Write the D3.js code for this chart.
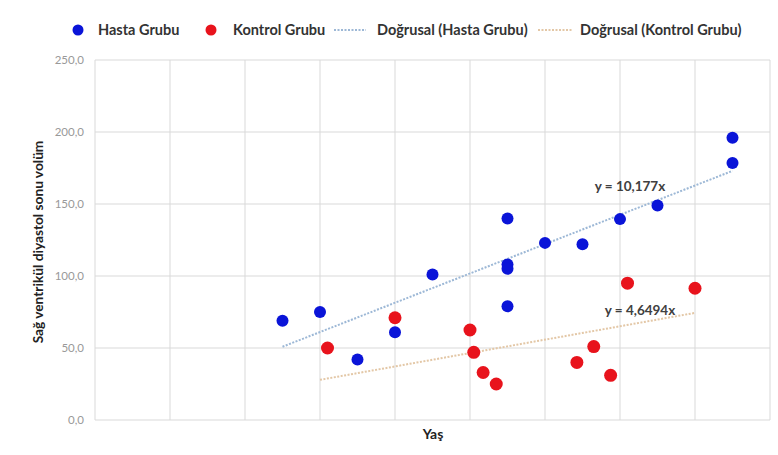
<!DOCTYPE html>
<html>
<head>
<meta charset="utf-8">
<script src="https://cdn.jsdelivr.net/npm/d3@7"></script>
<style>
  body { margin: 0; background: #fff; }
  svg { display: block; font-family: Lato, "Open Sans", sans-serif; }
</style>
</head>
<body>
<svg id="chart" width="778" height="455"></svg>
<script>
// Hasta Grubu (patients)
const hastaX = [5, 6, 7, 8, 9, 11, 11, 11, 11, 12, 13, 14, 15, 17, 17];
const hastaY = [69, 75, 42, 61, 101, 140, 108, 105, 79, 123, 122, 139.5, 149, 196, 178.5];
// Kontrol Grubu (controls)
const kontrolX = [6.2, 8, 10, 10.1, 10.35, 10.7, 12.85, 13.3, 13.75, 14.2, 16];
const kontrolY = [50, 71, 62.5, 47, 33, 25, 40, 51, 31, 95, 91.5];
// Trend lines (through origin)
const hastaSlope = 10.177;
const kontrolSlope = 4.6494;
const hastaTrendRange = [5, 17];
const kontrolTrendRange = [6, 16];
const hastaLabel = "y = 10,177x";
const kontrolLabel = "y = 4,6494x";
const yTicks = [0, 50, 100, 150, 200, 250];
const xTicks = [0, 2, 4, 6, 8, 10, 12, 14, 16, 18];
const legendLabels = ["Hasta Grubu", "Kontrol Grubu", "Doğrusal (Hasta Grubu)", "Doğrusal (Kontrol Grubu)"];
const yTitle = "Sağ ventrikül diyastol sonu volüm";
const xTitle = "Yaş";

const svg = d3.select("#chart");
const x = d3.scaleLinear().domain([0, 18]).range([95, 770]);
const y = d3.scaleLinear().domain([0, 250]).range([420, 60]);

// grid
const grid = svg.append("g");
grid.selectAll("line.h").data(yTicks).join("line")
  .attr("x1", 95).attr("x2", 770)
  .attr("y1", d => y(d)).attr("y2", d => y(d))
  .attr("stroke", "#d9d9d9").attr("stroke-width", 1);
grid.selectAll("line.v").data(xTicks).join("line")
  .attr("x1", d => x(d)).attr("x2", d => x(d))
  .attr("y1", 60).attr("y2", 420)
  .attr("stroke", "#d9d9d9").attr("stroke-width", 1);

// y axis labels
const yAxis = d3.axisLeft(y).tickValues(yTicks).tickSize(0).tickPadding(11)
  .tickFormat(d => d3.format(".1f")(d).replace(".", ","));
svg.append("g").attr("transform", "translate(95,0)").call(yAxis)
  .call(g => g.select(".domain").remove())
  .call(g => g.selectAll("text").attr("fill", "#999").attr("font-size", 11.5).attr("font-family", "Lato, sans-serif"));

// trend lines
function trend(range, slope, color) {
  svg.append("line")
    .attr("x1", x(range[0])).attr("y1", y(range[0] * slope))
    .attr("x2", x(range[1])).attr("y2", y(range[1] * slope))
    .attr("stroke", color).attr("stroke-width", 2).attr("stroke-dasharray", "2,1.5");
}
trend(hastaTrendRange, hastaSlope, "#9db8d6");
trend(kontrolTrendRange, kontrolSlope, "#e3c7a6");

// points
const hasta = hastaX.map((v, i) => [v, hastaY[i]]);
const kontrol = kontrolX.map((v, i) => [v, kontrolY[i]]);
svg.append("g").selectAll("circle").data(hasta).join("circle")
  .attr("cx", d => x(d[0])).attr("cy", d => y(d[1])).attr("r", 6)
  .attr("fill", "#0a14d8");
svg.append("g").selectAll("circle").data(kontrol).join("circle")
  .attr("cx", d => x(d[0])).attr("cy", d => y(d[1])).attr("r", 6.5)
  .attr("fill", "#e8131c");

// equation labels
svg.append("text").attr("x", 630).attr("y", 191).attr("text-anchor", "middle")
  .attr("font-size", 13.5).attr("font-weight", 700).attr("fill", "#404040").text(hastaLabel);
svg.append("text").attr("x", 640).attr("y", 315).attr("text-anchor", "middle")
  .attr("font-size", 13.5).attr("font-weight", 700).attr("fill", "#404040").text(kontrolLabel);

// axis titles
svg.append("text").attr("transform", "translate(43,242) rotate(-90)").attr("text-anchor", "middle")
  .attr("font-size", 13.7).attr("font-weight", 700).attr("fill", "#222").text(yTitle);
svg.append("text").attr("x", 433).attr("y", 439).attr("text-anchor", "middle")
  .attr("font-size", 14).attr("font-weight", 700).attr("fill", "#222").text(xTitle);

// legend
const lg = svg.append("g").attr("font-size", 14.5).attr("font-weight", 700).attr("fill", "#333");
lg.append("circle").attr("cx", 78).attr("cy", 30).attr("r", 5.5).attr("fill", "#0a14d8");
lg.append("text").attr("x", 98).attr("y", 35).text(legendLabels[0]);
lg.append("circle").attr("cx", 211).attr("cy", 30).attr("r", 5.5).attr("fill", "#e8131c");
lg.append("text").attr("x", 233).attr("y", 35).text(legendLabels[1]);
lg.append("line").attr("x1", 334).attr("x2", 366).attr("y1", 30).attr("y2", 30)
  .attr("stroke", "#9db8d6").attr("stroke-width", 2).attr("stroke-dasharray", "2,1.5");
lg.append("text").attr("x", 377).attr("y", 35).text(legendLabels[2]);
lg.append("line").attr("x1", 538).attr("x2", 573).attr("y1", 30).attr("y2", 30)
  .attr("stroke", "#e3c7a6").attr("stroke-width", 2).attr("stroke-dasharray", "2,1.5");
lg.append("text").attr("x", 580).attr("y", 35).text(legendLabels[3]);
</script>
</body>
</html>
